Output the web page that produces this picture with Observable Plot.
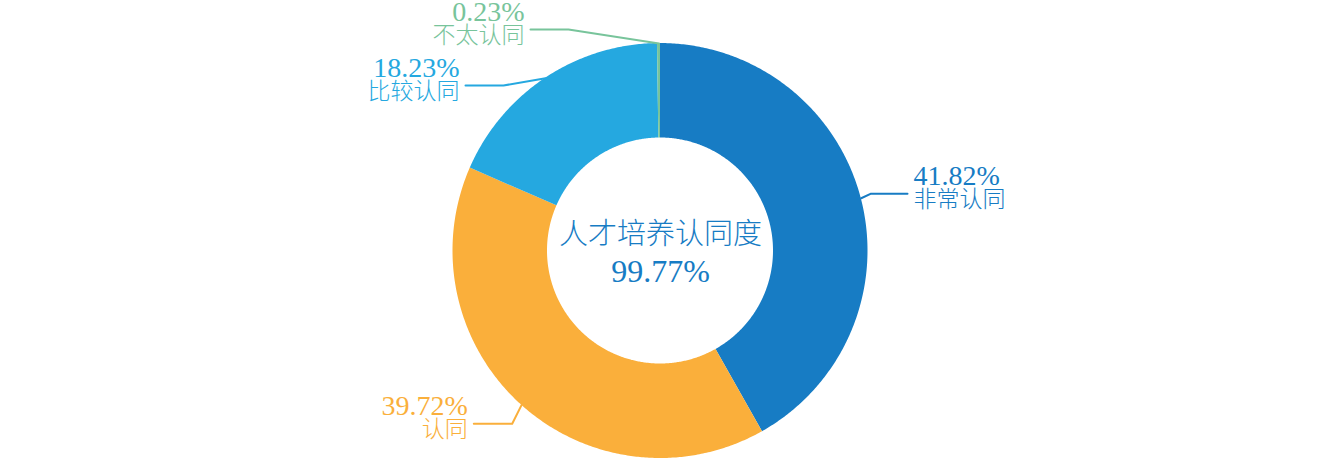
<!DOCTYPE html>
<html>
<head>
<meta charset="utf-8">
<script src="https://cdn.jsdelivr.net/npm/d3@7"></script>
<script src="https://cdn.jsdelivr.net/npm/@observablehq/plot@0.6"></script>
<style>
  html, body { margin: 0; padding: 0; background: #ffffff; }
  #chart { width: 1320px; height: 458px; overflow: hidden; }
</style>
</head>
<body>
<div id="chart"></div>
<script>
// ---- data ----
const categories = ["非常认同", "认同", "比较认同", "不太认同"];
const values = [41.82, 39.72, 18.23, 0.23];
const valueLabels = ["41.82%", "39.72%", "18.23%", "0.23%"];
const colors = ["#177CC4", "#FAAF3B", "#25A8E0", "#78C49B"];
const centerTitle = "人才培养认同度";
const centerValue = "99.77%";

// ---- layout (not data) ----
const W = 1320, H = 458;
const cx = 660, cy = 250.5, outerR = 207.5, innerR = 113;
const labelLayout = [
  {elbowX: 870, lineY: 193.3, endX: 907, side: "right"},
  {elbowX: 511.7, lineY: 423.3, endX: 473.3, side: "left"},
  {elbowX: 503, lineY: 85, endX: 465, side: "left"},
  {elbowX: 568, lineY: 29, endX: 530, side: "left"}
];
const fontFamily = "'Liberation Serif', 'Noto Sans CJK SC', serif";

// pie angles (clockwise from top)
const pie = d3.pie().sort(null).value(d => d.value).startAngle(0).endAngle(2 * Math.PI);
const table = categories.map((name, i) => ({name, value: values[i], label: valueLabels[i]}));
const arcs = pie(table);

const px = (a, r) => cx + r * Math.sin(a);
const py = (a, r) => cy - r * Math.cos(a);

// ring sector outlines
const ringPts = [];
arcs.forEach(a => {
  const n = Math.max(2, Math.ceil((a.endAngle - a.startAngle) / (Math.PI / 360)) + 1);
  for (let k = 0; k < n; k++) {
    const t = a.startAngle + (a.endAngle - a.startAngle) * k / (n - 1);
    ringPts.push({name: a.data.name, ox: px(t, outerR), oy: py(t, outerR), ix: px(t, innerR), iy: py(t, innerR)});
  }
});

// leader lines and labels
const leaderPts = [];
const labelRows = [];
arcs.forEach((a, i) => {
  const mid = (a.startAngle + a.endAngle) / 2;
  const L = labelLayout[i];
  leaderPts.push({name: a.data.name, x: px(mid, outerR), y: py(mid, outerR)});
  leaderPts.push({name: a.data.name, x: L.elbowX, y: L.lineY});
  leaderPts.push({name: a.data.name, x: L.endX, y: L.lineY});
  const anchor = L.side === "right" ? "start" : "end";
  const tx = L.side === "right" ? L.endX + 6 : L.endX - 6;
  labelRows.push({name: a.data.name, text: a.data.label, x: tx, y: L.lineY - 9, anchor, kind: "value"});
  labelRows.push({name: a.data.name, text: a.data.name, x: tx, y: L.lineY + 13, anchor, kind: "name"});
});

function textMarks(anchor) {
  const rows = labelRows.filter(d => d.anchor === anchor);
  return [
    Plot.text(rows.filter(d => d.kind === "value"), {x: "x", y: "y", text: "text", fill: "name", textAnchor: anchor, lineAnchor: "bottom", fontSize: 28}),
    Plot.text(rows.filter(d => d.kind === "name"), {x: "x", y: "y", text: "text", fill: "name", textAnchor: anchor, lineAnchor: "bottom", fontSize: 23, fontWeight: 300})
  ];
}

const chart = Plot.plot({
  width: W,
  height: H,
  margin: 0,
  x: {domain: [0, W], range: [0, W], axis: null},
  y: {domain: [0, H], range: [0, H], axis: null},
  color: {domain: categories, range: colors},
  style: {fontFamily, background: "#ffffff"},
  marks: [
    Plot.area(ringPts, {x1: "ox", y1: "oy", x2: "ix", y2: "iy", z: "name", fill: "name", curve: "linear"}),
    Plot.line(leaderPts, {x: "x", y: "y", z: "name", stroke: "name", strokeWidth: 2, curve: "linear"}),
    ...textMarks("start"),
    ...textMarks("end"),
    Plot.text([centerTitle], {x: () => cx, y: () => 243, text: d => d, fill: colors[0], textAnchor: "middle", lineAnchor: "bottom", fontSize: 29, fontWeight: 300}),
    Plot.text([centerValue], {x: () => cx, y: () => 281.5, text: d => d, fill: colors[0], textAnchor: "middle", lineAnchor: "bottom", fontSize: 32})
  ]
});

document.getElementById("chart").appendChild(chart);
</script>
</body>
</html>
